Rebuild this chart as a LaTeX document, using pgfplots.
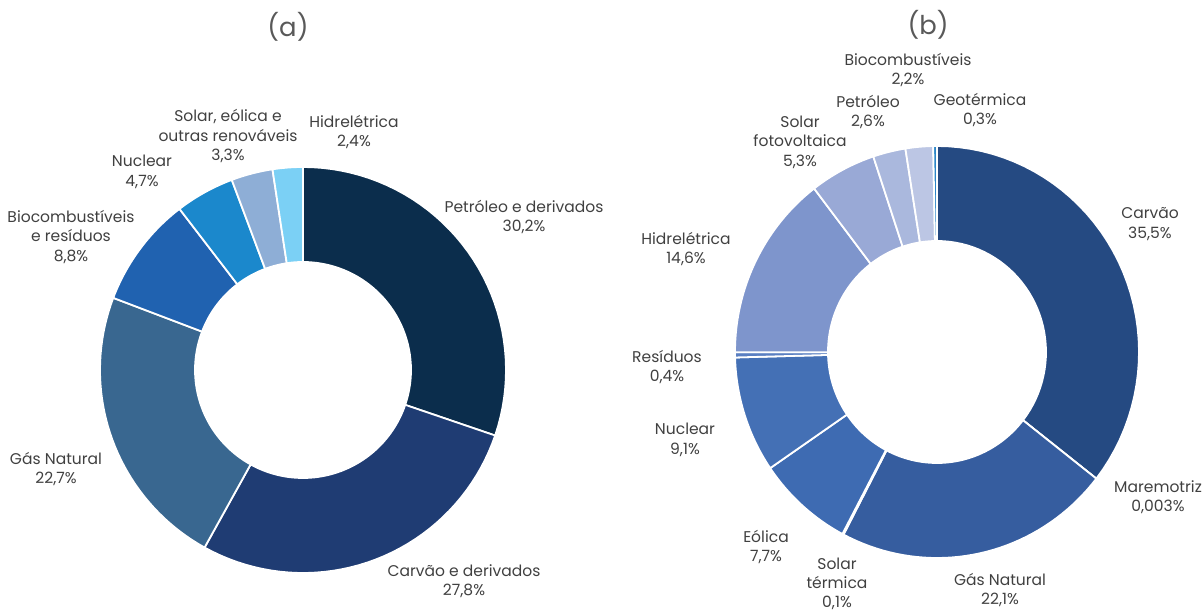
\documentclass[border=0pt]{standalone}
\usepackage{pgfplots}
\pgfplotsset{compat=1.18}
\usepackage{fontspec}
\setmainfont{Poppins}
\definecolor{a1}{HTML}{0B2D4C}
\definecolor{a2}{HTML}{1F3C73}
\definecolor{a3}{HTML}{396790}
\definecolor{a4}{HTML}{2062B0}
\definecolor{a5}{HTML}{1B88CC}
\definecolor{a6}{HTML}{8EAED6}
\definecolor{a7}{HTML}{7BD0F5}
\definecolor{b1}{HTML}{254A82}
\definecolor{b2}{HTML}{2C528C}
\definecolor{b3}{HTML}{365D9F}
\definecolor{b4}{HTML}{3A64A8}
\definecolor{b5}{HTML}{3E6BB2}
\definecolor{b6}{HTML}{4470B5}
\definecolor{b7}{HTML}{5A7FC2}
\definecolor{b8}{HTML}{7E95CC}
\definecolor{b9}{HTML}{99A9D6}
\definecolor{b10}{HTML}{AAB8DD}
\definecolor{b11}{HTML}{BCC6E4}
\definecolor{b12}{HTML}{2B86C8}
\definecolor{txt}{HTML}{404040}
\definecolor{ttl}{HTML}{595959}
\tikzset{lab/.style={font=\fontsize{15.6}{19.6}\selectfont, text=txt, align=center, inner sep=0pt, anchor=center}}
% #1 cx, #2 cy, #3 Rx, #4 Ry, #5 rx, #6 ry, #7 list value/color (clockwise from top)
\newcommand\donut[7]{%
  \xdef\total{0}%
  \foreach \v/\c in {#7}{\pgfmathparse{\total+\v}\xdef\total{\pgfmathresult}}%
  \xdef\cum{0}%
  \foreach \v/\c in {#7}{%
    \pgfmathsetmacro\aa{90-360*(\cum/\total)}%
    \pgfmathparse{\cum+\v}\xdef\cum{\pgfmathresult}%
    \pgfmathsetmacro\bb{90-360*(\cum/\total)}%
    \edef\temp{\noexpand\addplot[fill=\c, draw=white, line width=1.8pt, line join=round, domain=0:81, samples=82]
      ({#1+(x<40.5?#3:#5)*cos(x<40.5?\aa+(\bb-\aa)*x/40:\bb-(\bb-\aa)*(x-41)/40)},
       {#2+(x<40.5?#4:#6)*sin(x<40.5?\aa+(\bb-\aa)*x/40:\bb-(\bb-\aa)*(x-41)/40)}) -- cycle;}%
    \temp
  }%
}
\begin{document}
\begin{tikzpicture}
\begin{axis}[width=1203bp, height=615bp, scale only axis,
  xmin=0, xmax=1203, ymin=0, ymax=615, hide axis, clip=false]
\donut{303}{245}{203}{203}{108}{108}{30.2/a1,27.8/a2,22.7/a3,8.8/a4,4.7/a5,3.3/a6,2.4/a7}
\donut{937}{263}{202}{206}{109}{111}{35.5/b1,0.003/b2,22.1/b3,0.1/b4,7.7/b5,9.1/b6,0.4/b7,14.6/b8,5.3/b9,2.6/b10,2.2/b11,0.3/b12}
% titles
\node[font=\fontsize{26}{30}\selectfont, text=ttl, anchor=center] at (axis cs:288,588) {(a)};
\node[font=\fontsize{26}{30}\selectfont, text=ttl, anchor=center] at (axis cs:928,590) {(b)};
% labels (a)
\node[lab] at (axis cs:524,398) {Petróleo e derivados\\30,2\%};
\node[lab] at (axis cs:464,34) {Carvão e derivados\\27,8\%};
\node[lab] at (axis cs:56,146) {Gás Natural\\22,7\%};
\node[lab] at (axis cs:71,378) {Biocombustíveis\\e resíduos\\8,8\%};
\node[lab] at (axis cs:142,443) {Nuclear\\4,7\%};
\node[lab] at (axis cs:228,479) {Solar, eólica e\\outras renováveis\\3,3\%};
\node[lab] at (axis cs:354,483) {Hidrelétrica\\2,4\%};
% labels (b)
\node[lab] at (axis cs:908,545) {Biocombustíveis\\2,2\%};
\node[lab] at (axis cs:868,503) {Petróleo\\2,6\%};
\node[lab] at (axis cs:980,505) {Geotérmica\\0,3\%};
\node[lab] at (axis cs:800,473) {Solar\\fotovoltaica\\5,3\%};
\node[lab] at (axis cs:1150,391) {Carvão\\35,5\%};
\node[lab] at (axis cs:686,366) {Hidrelétrica\\14,6\%};
\node[lab] at (axis cs:667,248) {Resíduos\\0,4\%};
\node[lab] at (axis cs:685,175) {Nuclear\\9,1\%};
\node[lab] at (axis cs:1158,118) {Maremotriz\\0,003\%};
\node[lab] at (axis cs:766,68) {Eólica\\7,7\%};
\node[lab, font=\fontsize{15.6}{18.8}\selectfont] at (axis cs:837,31) {Solar\\térmica\\0,1\%};
\node[lab] at (axis cs:1000,25) {Gás Natural\\22,1\%};
\end{axis}
\pgfresetboundingbox
\useasboundingbox (current axis.south west) rectangle (current axis.north east);
\end{tikzpicture}
\end{document}
